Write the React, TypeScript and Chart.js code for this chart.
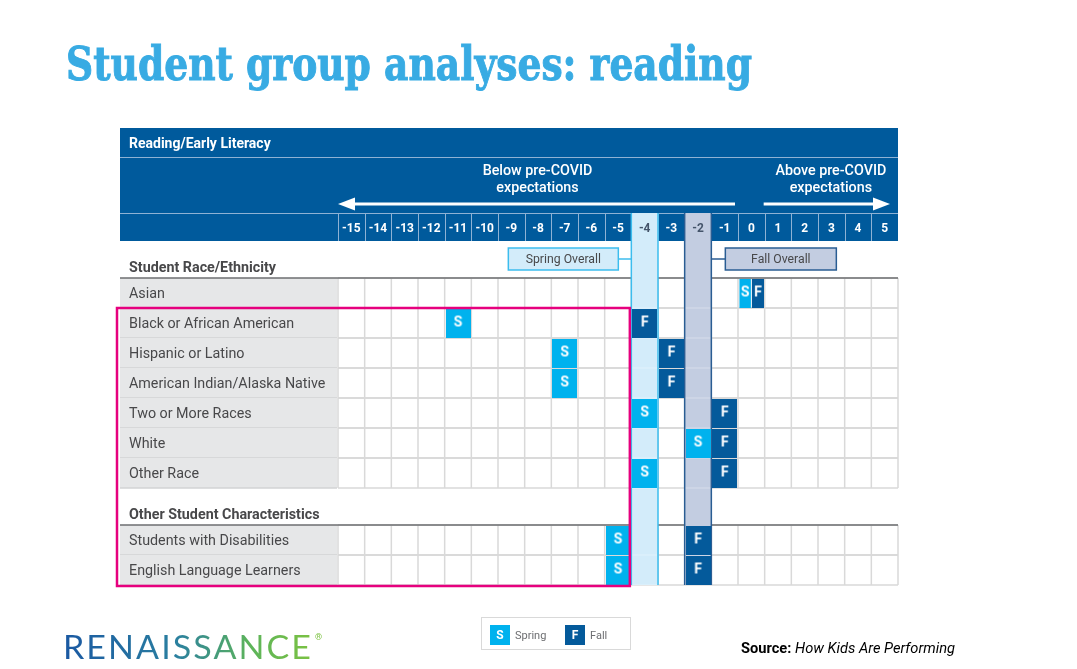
import React, { useEffect, useLayoutEffect, useRef } from 'react';
import { Chart, registerables } from 'chart.js';

Chart.register(...registerables);

// ---------------- data ----------------
const TITLE = 'Student group analyses: reading';
const PANEL_TITLE = 'Reading/Early Literacy';
const BELOW_LABEL = ['Below pre-COVID', 'expectations'];
const ABOVE_LABEL = ['Above pre-COVID', 'expectations'];
const tickValues = [-15, -14, -13, -12, -11, -10, -9, -8, -7, -6, -5, -4, -3, -2, -1, 0, 1, 2, 3, 4, 5];
const groupTitles = ['Student Race/Ethnicity', 'Other Student Characteristics'];
const raceGroups = [
  'Asian',
  'Black or African American',
  'Hispanic or Latino',
  'American Indian/Alaska Native',
  'Two or More Races',
  'White',
  'Other Race',
];
const raceSpring = [0, -11, -7, -7, -4, -2, -4];
const raceFall = [0, -4, -3, -3, -1, -1, -1];
const otherGroups = ['Students with Disabilities', 'English Language Learners'];
const otherSpring = [-5, -5];
const otherFall = [-2, -2];
const springOverall = -4;
const fallOverall = -2;
const overallLabels = ['Spring Overall', 'Fall Overall'];
const legendLabels = ['Spring', 'Fall'];
const legendLetters = ['S', 'F'];

// ---------------- styles ----------------
const COL = {
  header: '#005A9C',
  headerLine: '#8FB2D4',
  spring: '#00B2EE',
  fall: '#045A9B',
  springBand: '#D3ECFA',
  springBorder: '#3CBDEE',
  fallBand: '#C3CDE1',
  fallBorder: '#2A5D93',
  labelBg: '#E6E7E8',
  labelSep: '#D2D3D5',
  grid: '#D9D9D9',
  text: '#48484A',
  groupLine: '#6D6E71',
  pink: '#E6007E',
  title: '#38ABE3',
};
const FONT = 'Roboto, "Noto Sans", sans-serif';
const HEADER_UNITS = 37 / 30;

type Row = { label: string; top: number; bottom: number; center: number; spring: number; fall: number };
type Head = { title: string; top: number; bottom: number };

const groupsDef = [
  { title: groupTitles[0], labels: raceGroups, spring: raceSpring, fall: raceFall },
  { title: groupTitles[1], labels: otherGroups, spring: otherSpring, fall: otherFall },
];
const rows: Row[] = [];
const heads: Head[] = [];
let pos = 0;
groupsDef.forEach((g) => {
  heads.push({ title: g.title, top: pos, bottom: pos + HEADER_UNITS });
  pos += HEADER_UNITS;
  g.labels.forEach((l, i) => {
    rows.push({ label: l, top: pos, bottom: pos + 1, center: pos + 0.5, spring: g.spring[i], fall: g.fall[i] });
    pos += 1;
  });
});
const Y_MAX = pos;

function makeMark(letter: string, color: string, part: 'full' | 'left' | 'right') {
  const W = 25;
  const H = 29;
  const c = document.createElement('canvas');
  c.width = W;
  c.height = H;
  const g = c.getContext('2d')!;
  let x0 = 0;
  let w = W;
  if (part === 'left') { x0 = 0.5; w = 11.5; }
  if (part === 'right') { x0 = 13; w = 12; }
  g.fillStyle = color;
  g.fillRect(x0, 0, w, H);
  g.fillStyle = '#FFFFFF';
  g.font = `bold 14px ${FONT}`;
  g.textAlign = 'center';
  g.textBaseline = 'middle';
  g.fillText(letter, x0 + w / 2, H / 2);
  return c;
}

function condensedText(ctx: CanvasRenderingContext2D, text: string, x: number, y: number, k: number, align: CanvasTextAlign) {
  ctx.save();
  ctx.translate(x, y);
  ctx.scale(k, 1);
  ctx.textAlign = align;
  ctx.fillText(text, 0, 0);
  ctx.restore();
}

const slidePlugin = {
  id: 'slide',
  beforeDatasetsDraw(chart: any) {
    const ctx: CanvasRenderingContext2D = chart.ctx;
    const xs = chart.scales.x;
    const ys = chart.scales.y;
    const ca = chart.chartArea;
    const colL = (v: number) => xs.getPixelForValue(v - 0.5);
    const colR = (v: number) => xs.getPixelForValue(v + 0.5);
    const L = ca.left - 218;
    const R = ca.right;
    const hTop = ca.top - 113;
    const sep1 = hTop + 29;
    const sep2 = ca.top - 28;
    const gridL = colL(tickValues[0]);
    ctx.save();
    ctx.textBaseline = 'middle';

    // header block
    ctx.fillStyle = COL.header;
    ctx.fillRect(L, hTop, R - L, ca.top - hTop);
    ctx.strokeStyle = COL.headerLine;
    ctx.lineWidth = 1;
    [sep1, sep2].forEach((y) => {
      ctx.beginPath();
      ctx.moveTo(L, y + 0.5);
      ctx.lineTo(R, y + 0.5);
      ctx.stroke();
    });
    tickValues.forEach((v) => {
      const x = Math.round(colL(v)) + 0.5;
      ctx.beginPath();
      ctx.moveTo(x, sep2);
      ctx.lineTo(x, ca.top);
      ctx.stroke();
    });
    ctx.fillStyle = '#FFFFFF';
    ctx.font = `bold 14px ${FONT}`;
    condensedText(ctx, PANEL_TITLE, L + 9, (hTop + sep1) / 2 + 1.5, 1.0, 'left');

    // arrows & captions
    const arrowY = sep2 - 9;
    const leftA0 = colL(tickValues[0]);
    const leftA1 = colL(0) - 3;
    const rightA0 = colR(0) - 1;
    const rightA1 = colR(tickValues[tickValues.length - 1]) - 8;
    ctx.font = `500 14.3px ${FONT}`;
    const lc = (leftA0 + leftA1) / 2 + 1;
    const rc = (rightA0 + R) / 2;
    condensedText(ctx, BELOW_LABEL[0], lc, sep1 + 14.5, 1.0, 'center');
    condensedText(ctx, BELOW_LABEL[1], lc, sep1 + 31.5, 1.0, 'center');
    condensedText(ctx, ABOVE_LABEL[0], rc, sep1 + 14.5, 1.0, 'center');
    condensedText(ctx, ABOVE_LABEL[1], rc, sep1 + 31.5, 1.0, 'center');
    ctx.strokeStyle = '#FFFFFF';
    ctx.lineWidth = 3;
    ctx.beginPath();
    ctx.moveTo(leftA0 + 12, arrowY);
    ctx.lineTo(leftA1, arrowY);
    ctx.moveTo(rightA0, arrowY);
    ctx.lineTo(rightA1 - 12, arrowY);
    ctx.stroke();
    ctx.fillStyle = '#FFFFFF';
    ctx.beginPath();
    ctx.moveTo(leftA0, arrowY);
    ctx.lineTo(leftA0 + 17, arrowY - 6.5);
    ctx.lineTo(leftA0 + 17, arrowY + 6.5);
    ctx.closePath();
    ctx.fill();
    ctx.beginPath();
    ctx.moveTo(rightA1, arrowY);
    ctx.lineTo(rightA1 - 17, arrowY - 6.5);
    ctx.lineTo(rightA1 - 17, arrowY + 6.5);
    ctx.closePath();
    ctx.fill();

    // group headers
    heads.forEach((h) => {
      const yb = ys.getPixelForValue(h.bottom);
      ctx.fillStyle = COL.text;
      ctx.font = `bold 14.3px ${FONT}`;
      condensedText(ctx, h.title, L + 9, yb - 9.5, 1.0, 'left');
    });

    // rows: label cells + grid
    rows.forEach((r) => {
      const yt = ys.getPixelForValue(r.top);
      const yb = ys.getPixelForValue(r.bottom);
      ctx.fillStyle = COL.labelBg;
      ctx.fillRect(L, yt, gridL - 1 - L, yb - yt);
      ctx.strokeStyle = COL.labelSep;
      ctx.lineWidth = 1.5;
      ctx.beginPath();
      ctx.moveTo(L, yb);
      ctx.lineTo(gridL - 1, yb);
      ctx.stroke();
      ctx.fillStyle = COL.text;
      ctx.font = `14.3px ${FONT}`;
      condensedText(ctx, r.label, L + 9, (yt + yb) / 2 + 1.5, 1.0, 'left');
      ctx.strokeStyle = COL.grid;
      ctx.lineWidth = 1.5;
      ctx.beginPath();
      tickValues.forEach((v) => {
        const x = colL(v);
        ctx.moveTo(x, yt);
        ctx.lineTo(x, yb);
      });
      ctx.moveTo(R, yt);
      ctx.lineTo(R, yb);
      ctx.moveTo(gridL, yt);
      ctx.lineTo(R, yt);
      ctx.moveTo(gridL, yb);
      ctx.lineTo(R, yb);
      ctx.stroke();
    });
    heads.forEach((h) => {
      const yb = ys.getPixelForValue(h.bottom);
      ctx.strokeStyle = COL.groupLine;
      ctx.lineWidth = 1.5;
      ctx.beginPath();
      ctx.moveTo(L, yb);
      ctx.lineTo(R, yb);
      ctx.stroke();
    });

    // overall bands
    const bands = [
      { v: springOverall, fill: COL.springBand, border: COL.springBorder },
      { v: fallOverall, fill: COL.fallBand, border: COL.fallBorder },
    ];
    bands.forEach((b) => {
      const x0 = colL(b.v);
      const x1 = colR(b.v);
      ctx.fillStyle = b.fill;
      ctx.fillRect(x0, sep2, x1 - x0, ca.bottom - sep2);
      ctx.strokeStyle = b.border;
      ctx.lineWidth = 1.5;
      ctx.beginPath();
      ctx.moveTo(x0, sep2);
      ctx.lineTo(x0, ca.bottom);
      ctx.moveTo(x1, sep2);
      ctx.lineTo(x1, ca.bottom);
      ctx.stroke();
      ctx.strokeStyle = 'rgba(255,255,255,0.35)';
      ctx.lineWidth = 1;
      ctx.beginPath();
      rows.forEach((r) => {
        const y = ys.getPixelForValue(r.bottom);
        ctx.moveTo(x0 + 1, y);
        ctx.lineTo(x1 - 1, y);
      });
      ctx.stroke();
    });

    // tick labels
    ctx.font = `bold 13px ${FONT}`;
    tickValues.forEach((v) => {
      const inBand = v === springOverall || v === fallOverall;
      ctx.fillStyle = inBand ? '#44546A' : '#FFFFFF';
      condensedText(ctx, String(v), (colL(v) + colR(v)) / 2, (sep2 + ca.top) / 2 + 1.5, 0.92, 'center');
    });

    // overall labels
    const labY = ys.getPixelForValue(heads[0].top) + 18;
    const boxH = 22;
    const sBoxR = colL(springOverall) - 13;
    const sBoxL = sBoxR - 110;
    const fBoxL = colR(fallOverall) + 14;
    const fBoxR = fBoxL + 111;
    const boxes = [
      { l: sBoxL, r: sBoxR, fill: COL.springBand, border: COL.springBorder, text: overallLabels[0], cx0: sBoxR, cx1: colL(springOverall) },
      { l: fBoxL, r: fBoxR, fill: COL.fallBand, border: COL.fallBorder, text: overallLabels[1], cx0: colR(fallOverall), cx1: fBoxL },
    ];
    boxes.forEach((b) => {
      ctx.fillStyle = b.fill;
      ctx.fillRect(b.l, labY - boxH / 2, b.r - b.l, boxH);
      ctx.strokeStyle = b.border;
      ctx.lineWidth = 1.5;
      ctx.strokeRect(b.l, labY - boxH / 2, b.r - b.l, boxH);
      ctx.beginPath();
      ctx.moveTo(b.cx0, labY);
      ctx.lineTo(b.cx1, labY);
      ctx.stroke();
      ctx.fillStyle = COL.text;
      ctx.font = `12.5px ${FONT}`;
      condensedText(ctx, b.text, (b.l + b.r) / 2, labY + 0.5, 0.98, 'center');
    });
    ctx.restore();
  },
  afterDraw(chart: any) {
    const ctx: CanvasRenderingContext2D = chart.ctx;
    const xs = chart.scales.x;
    const ys = chart.scales.y;
    const ca = chart.chartArea;
    // highlight annotation around the groups below the overall spring result
    const L = ca.left - 221;
    const R = xs.getPixelForValue(springOverall - 0.5) - 1.5;
    const T = ys.getPixelForValue(rows[1].top);
    const B = ca.bottom + 1;
    ctx.save();
    ctx.strokeStyle = COL.pink;
    ctx.lineWidth = 2.5;
    ctx.strokeRect(L, T, R - L, B - T);
    ctx.restore();
  },
};

function FitText({ target, style, children }: { target: number; style: React.CSSProperties; children: React.ReactNode }) {
  const ref = useRef<HTMLSpanElement>(null);
  useLayoutEffect(() => {
    const el = ref.current;
    if (!el) return;
    el.style.transform = 'none';
    const w = el.getBoundingClientRect().width;
    if (w > 0) el.style.transform = `scaleX(${target / w})`;
  }, [target]);
  return (
    <span ref={ref} style={{ display: 'inline-block', whiteSpace: 'nowrap', transformOrigin: 'left top', ...style }}>
      {children}
    </span>
  );
}

export default function App() {
  const canvasRef = useRef<HTMLCanvasElement>(null);

  useEffect(() => {
    const canvas = canvasRef.current;
    if (!canvas) return;
    const imgs = {
      sFull: makeMark('S', COL.spring, 'full'),
      sHalf: makeMark('S', COL.spring, 'left'),
      fFull: makeMark('F', COL.fall, 'full'),
      fHalf: makeMark('F', COL.fall, 'right'),
    };
    const chart = new Chart(canvas, {
      type: 'scatter',
      data: {
        datasets: [
          {
            label: legendLabels[0],
            data: rows.map((r) => ({ x: r.spring, y: r.center })),
            pointRadius: 12,
            pointStyle: (c: any) => {
              const r = rows[c.dataIndex];
              return r && r.spring === r.fall ? imgs.sHalf : imgs.sFull;
            },
          } as any,
          {
            label: legendLabels[1],
            data: rows.map((r) => ({ x: r.fall, y: r.center })),
            pointRadius: 12,
            pointStyle: (c: any) => {
              const r = rows[c.dataIndex];
              return r && r.spring === r.fall ? imgs.fHalf : imgs.fFull;
            },
          } as any,
        ],
      },
      options: {
        responsive: false,
        animation: false,
        events: [],
        layout: { padding: { left: 338, right: 179, top: 241, bottom: 84 } },
        plugins: { legend: { display: false }, tooltip: { enabled: false } },
        scales: {
          x: { type: 'linear', min: -15.5, max: 5.5, display: false },
          y: { type: 'linear', min: 0, max: Y_MAX, reverse: true, display: false },
        },
      },
      plugins: [slidePlugin],
    });
    return () => chart.destroy();
  }, []);

  return (
    <div style={{ position: 'absolute', left: 0, top: 0, width: 1077, height: 669, overflow: 'hidden', background: '#FFFFFF' }}>
      <canvas ref={canvasRef} width={1077} height={669} style={{ position: 'absolute', left: 0, top: 0 }} />
      <div style={{ position: 'absolute', left: 66, top: 41, lineHeight: 1 }}>
        <FitText
          target={686}
          style={{
            fontFamily: '"DejaVu Serif", serif',
            fontStretch: 'condensed',
            fontWeight: 700,
            fontSize: 46,
            color: COL.title,
            WebkitTextStroke: `0.9px ${COL.title}`,
          }}
        >
          {TITLE}
        </FitText>
      </div>
      <div style={{ position: 'absolute', left: 63, top: 630, lineHeight: 1 }}>
        <FitText
          target={250}
          style={{
            fontFamily: 'Lato, "Noto Sans", sans-serif',
            fontWeight: 400,
            fontSize: 33,
            letterSpacing: 2,
            backgroundImage: 'linear-gradient(90deg, #1A58A2 0%, #2A7FA0 45%, #5DB45A 75%, #7CC242 100%)',
            WebkitBackgroundClip: 'text',
            backgroundClip: 'text',
            color: 'transparent',
          }}
        >
          RENAISSANCE
        </FitText>
      </div>
      <div style={{ position: 'absolute', left: 315, top: 632, fontFamily: FONT, fontSize: 9, color: '#7CC242' }}>®</div>
      <div
        style={{
          position: 'absolute',
          left: 481,
          top: 617,
          width: 150,
          height: 33,
          border: '1px solid #D9D9D9',
          boxSizing: 'border-box',
          fontFamily: FONT,
        }}
      >
        {legendLetters.map((l, i) => (
          <div key={l} style={{ position: 'absolute', left: 8 + i * 75, top: 7, display: 'flex', alignItems: 'center' }}>
            <div
              style={{
                width: 20,
                height: 20,
                background: i === 0 ? COL.spring : COL.fall,
                color: '#FFFFFF',
                fontSize: 12,
                fontWeight: 700,
                display: 'flex',
                alignItems: 'center',
                justifyContent: 'center',
              }}
            >
              {l}
            </div>
            <span style={{ marginLeft: 5, fontSize: 11, color: '#6D6E71' }}>{legendLabels[i]}</span>
          </div>
        ))}
      </div>
      <div style={{ position: 'absolute', left: 741, top: 640, lineHeight: 1 }}>
        <FitText target={214} style={{ fontFamily: FONT, fontSize: 15, color: '#000000' }}>
          <b>Source:</b> <i>How Kids Are Performing</i>
        </FitText>
      </div>
    </div>
  );
}
